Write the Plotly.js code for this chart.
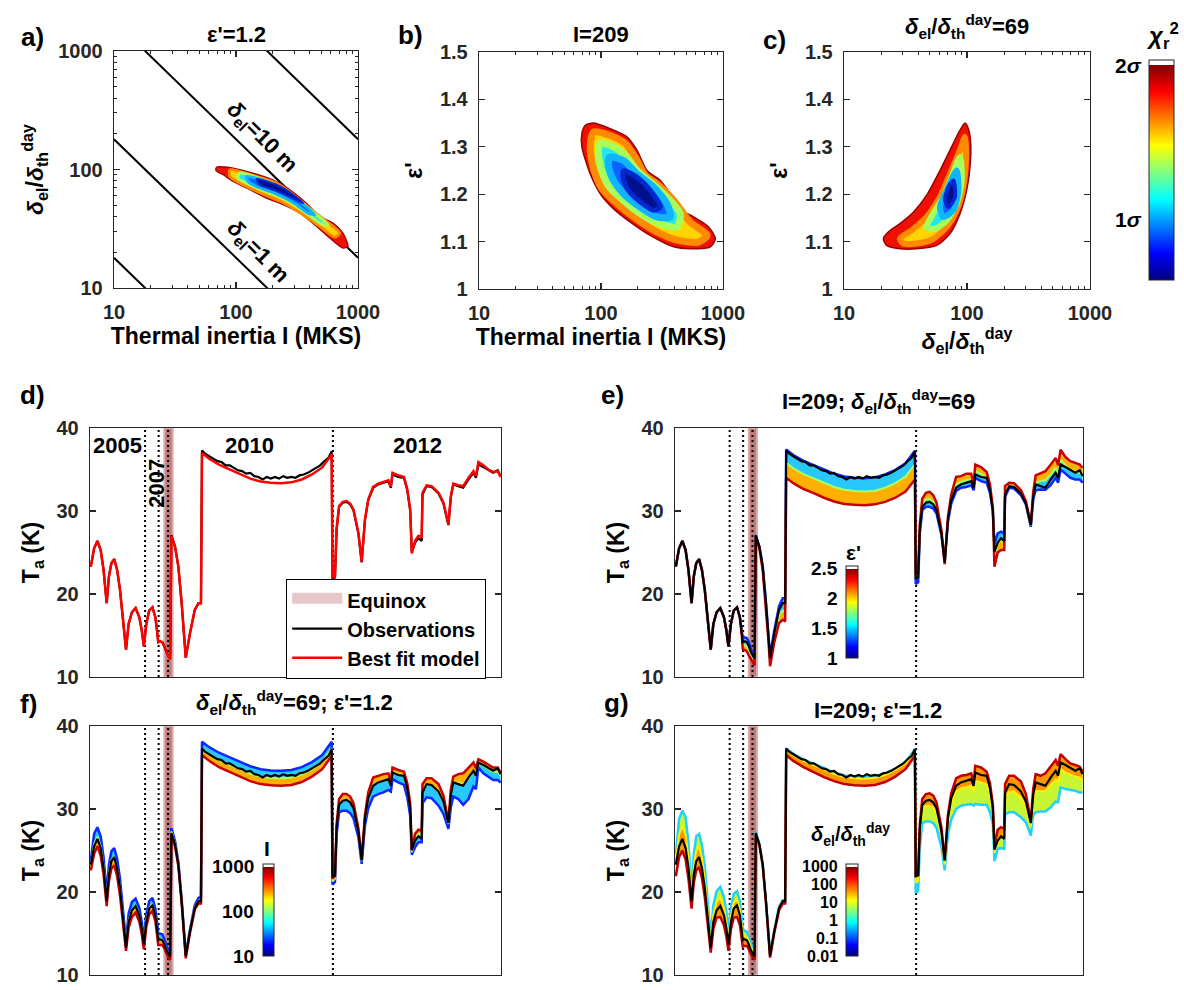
<!DOCTYPE html>
<html><head><meta charset="utf-8">
<script src="https://cdn.plot.ly/plotly-3.0.1.min.js"></script>
<style>html,body{margin:0;padding:0;background:#fff}#chart{width:1184px;height:990px}</style>
</head><body><div id="chart"></div>
<script>
// ================= DATA =================
// Panel a: chi2 contour levels (outer -> inner), thermal inertia I vs delta_el/delta_th^day (eps'=1.2)
const A_L1_I = [69.2, 94.8, 138, 201, 276, 378, 486, 624, 753, 828, 753, 586, 456, 333, 243, 178, 130, 94.8, 78.5, 68.4];
const A_L1_D = [104.7, 102.6, 93.1, 81.8, 67.5, 52, 40.2, 35.3, 29.1, 22.4, 21.7, 26.4, 33.1, 42.9, 50.4, 57.3, 67.5, 79.3, 90.2, 98.2];
const A_L2_I = [89.1, 138, 215, 294, 402, 550, 708, 644, 486, 355, 243, 167, 114.6, 89.1];
const A_L2_D = [99.4, 88.9, 76.7, 61.2, 46.8, 36.5, 29.1, 26.9, 33.1, 41.5, 52.7, 61.9, 74.3, 87.3];
const A_L3_I = [107.4, 167, 243, 333, 456, 568, 486, 378, 259, 178, 122, 104];
const A_L3_D = [93.1, 81.8, 68.2, 53.7, 41.5, 34.2, 35.3, 42.9, 55.5, 65.3, 76.7, 84.5];
const A_L4_I = [122, 178, 259, 355, 442, 390, 294, 201, 147, 126];
const A_L4_D = [87.3, 79.3, 65.3, 51, 41.5, 42.9, 52.7, 64, 71.9, 79.3];
const A_L5_I = [147, 215, 294, 355, 303, 215, 157];
const A_L5_D = [83, 74.3, 61.2, 52, 56.2, 66.1, 74.3];
// constant delta_el lines (I, ratio) end points
const DIAG_I = [10, 1000];
const DIAG_D = [[18, 0.18], [180, 1.8], [1800, 18], [18000, 180]];

// Panel b: I vs eps' (ratio=69)
const B_L1_I = [74.1, 86.7, 119, 163, 197, 238, 306, 370, 461, 574, 762, 865, 787, 540, 394, 253, 174, 127, 98.5, 81.5, 69.7, 69.7];
const B_L1_E = [1.345, 1.350, 1.338, 1.321, 1.293, 1.250, 1.229, 1.201, 1.166, 1.152, 1.131, 1.106, 1.089, 1.085, 1.089, 1.113, 1.141, 1.169, 1.201, 1.243, 1.300, 1.328];
const B_L2_I = [86.7, 118.9, 157.9, 190.6, 230.6, 296.5, 393.6, 539.5, 739.6, 631, 419, 269.8, 184.8, 134.9, 101.6, 86.7, 81.5];
const B_L2_E = [1.331, 1.324, 1.307, 1.278, 1.240, 1.219, 1.187, 1.141, 1.113, 1.099, 1.103, 1.124, 1.152, 1.180, 1.212, 1.254, 1.300];
const B_L3_I = [98.5, 126.7, 163, 196.8, 253.5, 346.7, 446.7, 419, 306, 209.5, 153, 117.4, 101.6, 95.4];
const B_L3_E = [1.307, 1.300, 1.278, 1.250, 1.226, 1.194, 1.159, 1.131, 1.138, 1.159, 1.187, 1.215, 1.250, 1.286];
const B_L4_I = [117.4, 153, 196.8, 269.8, 346.7, 369.6, 287.3, 209.5, 153, 126.7, 116];
const B_L4_E = [1.278, 1.271, 1.243, 1.215, 1.180, 1.152, 1.152, 1.173, 1.201, 1.229, 1.257];
const B_L5_I = [153, 196.8, 253.5, 306, 269.8, 209.5, 168.2, 153];
const B_L5_E = [1.250, 1.236, 1.208, 1.173, 1.166, 1.184, 1.208, 1.229];

// Panel c: ratio vs eps' (I=209)
const C_L1_D = [96.4, 102.6, 107.2, 105.7, 99.3, 87.7, 72.8, 56.7, 39, 28.5, 22.2, 20.9, 22.9, 28.5, 36.6, 47, 60.3, 75, 87.7];
const C_L1_E = [1.350, 1.338, 1.307, 1.257, 1.208, 1.159, 1.117, 1.092, 1.085, 1.085, 1.092, 1.106, 1.120, 1.138, 1.162, 1.198, 1.250, 1.300, 1.335];
const C_L2_D = [96.4, 98.2, 93.3, 82.4, 68.4, 53.2, 39, 30.3, 28.5, 35.5, 47, 60.3, 72.8, 87.7];
const C_L2_E = [1.321, 1.278, 1.215, 1.166, 1.131, 1.106, 1.096, 1.096, 1.106, 1.124, 1.152, 1.194, 1.243, 1.293];
const C_L3_D = [87.7, 90.6, 82.4, 68.4, 55, 47, 53.2, 64.3, 75];
const C_L3_E = [1.278, 1.229, 1.180, 1.145, 1.127, 1.131, 1.159, 1.194, 1.236];
const C_L4_D = [82.4, 85.1, 77.5, 64.3, 60.3, 68.4];
const C_L4_E = [1.250, 1.208, 1.166, 1.152, 1.173, 1.208];
const C_L5_D = [77.5, 79.8, 70.5, 66.2, 70.5];
const C_L5_E = [1.229, 1.194, 1.173, 1.187, 1.215];

// Time series (arbitrary time index 0-100): 2005-2007 segment (A), 2010 (B), 2012 (C)
const XA = [0.2,1.0,1.8,2.6,3.3,4.06, 4.6,5.2,5.9,6.6,7.3,8.0,8.76, 9.4,10.2,11.1,12.0,12.6,13.1, 13.7,14.4,15.2,15.9,16.4,16.6, 16.9,17.6,18.0,18.6,19.5, 19.8,20.7,21.5,22.3,22.9,23.3, 24.3,25.5,26.4,27.0];
const OBS_A = [23.3,25.5,26.4,25.3,22.9,18.9, 22.1,23.7,24.2,22.9,20.5,17.2,13.3, 16.4,17.8,18.3,17.2,15.6,13.7, 16.4,18.0,18.4,17.2,15.2,14.2, 14.3,14.2,13.8,13.0,12.2, 27.1,25.7,23.3,18.9,15.2,12.3, 15.2,18.1,18.9,18.9];
const FIT_A = [23.3,25.5,26.4,25.3,22.9,18.9, 22.1,23.7,24.2,22.9,20.5,17.2,13.3, 16.4,17.8,18.3,17.2,15.6,13.7, 16.4,18.0,18.4,17.2,15.2,14.2, 14.3,14.2,13.8,13.0,12.1, 27.0,25.7,23.3,18.9,15.2,12.3, 15.2,18.1,18.9,18.9];
const XB = [27.25,28,29,30,31,32,33,34,35,36,37,38,39,40,41,42,43,44,45,46,47,48,49,50,51,52,53,54,55,56,57,58,58.8];
const OBS_B = [37.3,36.9,36.6,36.3,36.0,35.9,35.5,35.5,35.2,34.9,34.8,34.5,34.6,34.2,34.1,33.8,34.1,33.9,34.1,33.9,34.2,34.0,34.1,34.0,34.3,34.4,34.6,34.9,35.2,35.5,36.0,36.4,37.2];
const XB_MODEL = [27.25,29,31.5,34,36.5,39,41.5,44,46.5,49,51.5,54,56.5,58.8];
const FIT_B = [37.0,36.3,35.55,35.0,34.4,33.9,33.55,33.4,33.35,33.45,33.8,34.4,35.25,36.8];
const XC = [59.0,59.6,60.0,60.6,61.5,62.4,63.3,64.1,65.3,66.1, 66.9,67.7,68.9,70.1,71.4,72.6,73.2,73.6,75.0,76.4, 77.2,77.9,78.3,79.1,79.9,80.7,80.9,81.9,83.1,84.8, 86.0,87.2,87.8,88.4,89.6,90.8,92.1,93.3,93.9,94.5, 95.7,96.9,98.1,99.2,99.9];
const OBS_C = [21.9,22.0,27.7,30.5,31.0,31.1,30.8,30.1,27.3,23.8, 28.9,31.3,32.8,33.2,33.4,33.6,32.8,34.4,34.1,34.0, 32.5,30.1,25.1,26.2,26.7,26.4,32.0,33.0,32.9,32.1, 30.9,28.3,31.7,33.2,33.0,32.8,33.8,34.6,34.0,35.6, 35.3,34.9,34.6,34.9,34.2];
const FIT_C = [22.0,22.1,27.9,30.6,31.1,31.2,30.9,30.2,27.4,23.9, 29.0,31.4,32.9,33.3,33.5,33.7,32.9,34.6,34.3,34.1, 32.6,30.2,24.9,26.4,27.0,26.9,32.2,33.1,33.0,32.2, 31.0,28.4,31.8,33.3,33.1,33.0,34.0,34.8,34.2,35.9, 35.5,35.0,34.7,34.8,34.1];

// Panel e: deviation from best-fit model for eps'=1 (LO), ~1.75 (MID), 2.5 (HI)
const E_LO_A = [0,0,0,0,0,0, 0,0,0,0,0,0,0, 0,0,0,0,0,0, 0,0,0,0,0.2,0.4, 0.5,0.5,0.5,0.4,0.3, 0,0,0.05,0.1,0.15,0.2, 0.3,0.45,0.6,0.6];
const E_MID_A = [0,0,0,0,0,0, 0,0,0,0,0,0,0, 0,0,0,0,0,0, 0,0,0,0,-0.1,-0.3, -0.4,-0.45,-0.45,-0.4,-0.3, -0.1,-0.1,-0.2,-0.25,-0.35,-0.4, -0.45,-0.7,-0.9,-1.0];
const E_HI_A = [0,0,0,0,0,0, 0,0,0,0,0,0,0, 0,0,0,0,0,0, 0,0,0,0,-0.3,-0.8, -1.0,-1.1,-1.1,-0.9,-0.7, -0.2,-0.3,-0.4,-0.6,-0.8,-1.0, -1.1,-1.6,-2.0,-2.2];
const E_LO_B = [0.4,0.45,0.5,0.55,0.6,0.6,0.6,0.6,0.6,0.6,0.6,0.55,0.5,0.45];
const E_MID_B = [-1.2,-1.15,-1.1,-1.05,-1.0,-1.0,-1.0,-1.0,-1.0,-1.0,-1.0,-1.05,-1.1,-1.2];
const E_HI_B = [-3.0,-2.95,-2.9,-2.85,-2.8,-2.75,-2.7,-2.65,-2.65,-2.65,-2.7,-2.8,-2.9,-3.0];
const E_LO_C = [-0.8,-0.7,-0.6,-0.5,-0.6,-0.7,-0.6,-0.5,-0.3,0.0, -0.3,-0.5,-0.5,-0.5,-0.6,-0.6,-0.4,-0.6,-0.7,-0.7, -0.4,-0.2,1.2,0.9,0.5,0.4,-0.5,-0.3,-0.3,-0.3, -0.2,-0.3,-0.4,-0.8,-0.5,-0.45,-0.85,-0.8,-0.8,-0.9, -1.0,-1.0,-0.9,-1.0,-0.7];
const E_MID_C = [-0.1,-0.1,0.0,0.2,0.3,0.25,0.25,0.2,0.0,-0.15, 0.0,0.1,0.3,0.2,0.2,0.1,0.0,0.2,0.15,-0.05, 0.1,0.0,-0.2,-0.2,-0.6,-0.6,0.15,0.0,0.0,0.0, 0.0,-0.15,0.05,0.1,0.5,0.7,0.4,0.4,0.25,0.3, 0.0,0.0,0.1,-0.2,0.2];
const E_HI_C = [0.5,0.5,0.5,0.9,1.1,1.1,1.0,0.8,0.3,-0.3, 0.3,0.6,1.2,0.9,1.0,0.8,0.4,1.0,1.0,0.6, 0.6,0.2,-1.6,-1.4,-1.7,-1.6,0.8,0.3,0.35,0.3, 0.2,0.0,0.5,1.0,1.5,1.8,1.6,1.6,1.3,1.5, 1.0,1.0,1.1,0.8,1.1];

// Panel f: deviation for I=10 (LO), ~100 (MID), 1000 (HI)
const F_LO_A = [0.5,1.5,1.4,1.4,1.3,0.9, 1.2,1.2,1.1,1.1,1.1,1.0,0.7, 1.0,1.0,0.9,0.9,0.8,0.6, 0.9,0.9,0.9,0.8,0.8,0.8, 0.7,0.7,0.6,0.5,0.4, 0.7,0.4,0.3,0.2,0.2,0.1, 0.2,0.3,0.4,0.5];
const F_MID_A = [-0.1,0.3,0.25,0.25,0.25,0.15, 0.2,0.15,0.05,0.05,0.1,0.15,0.15, 0.15,0.1,0.05,0.05,0.05,0.0, 0.15,0.1,0.1,0.05,0.05,0.1, 0.0,0.05,0.05,0.05,0.05, 0.3,0.1,0.05,0.0,0.0,-0.1, 0.0,0.05,0.05,0.1];
const F_HI_A = [-0.7,-0.9,-0.9,-0.9,-0.8,-0.6, -0.8,-0.9,-1.0,-1.0,-0.9,-0.7,-0.4, -0.7,-0.8,-0.8,-0.8,-0.7,-0.6, -0.6,-0.7,-0.7,-0.7,-0.7,-0.6, -0.7,-0.6,-0.5,-0.4,-0.3, -0.1,-0.2,-0.2,-0.2,-0.2,-0.3, -0.2,-0.2,-0.3,-0.3];
const F_LO_B = [1.1,1.15,1.2,1.2,1.25,1.25,1.25,1.25,1.25,1.25,1.25,1.25,1.25,1.3];
const F_MID_B = [0.3,0.3,0.35,0.35,0.35,0.35,0.35,0.35,0.35,0.35,0.35,0.35,0.4,0.45];
const F_HI_B = [-0.5,-0.5,-0.55,-0.55,-0.55,-0.55,-0.55,-0.55,-0.55,-0.55,-0.55,-0.5,-0.45,-0.4];
const F_LO_C = [-1.1,-0.9,-1.0,-1.0,-1.3,-1.4,-1.4,-1.3,-0.8,-0.5, -1.0,-1.3,-1.4,-1.5,-1.5,-1.4,-0.8,-1.0,-1.1,-1.2, -1.2,-1.0,-0.4,-1.0,-1.0,-0.9,-1.5,-1.7,-1.7,-1.8, -1.6,-0.8,-1.6,-1.8,-1.9,-2.5,-2.8,-2.1,-1.8,-0.9, -1.2,-1.1,-1.2,-1.3,-0.9];
const F_MID_C = [-0.7,-0.5,-0.2,0.0,0.0,-0.1,-0.1,-0.1,-0.1,-0.2, -0.2,-0.1,0.0,-0.1,-0.1,-0.1,0.0,-0.1,-0.1,-0.1, -0.1,0.0,-0.1,0.0,0.0,0.0,0.0,-0.2,-0.1,-0.1, -0.1,-0.2,-0.1,-0.2,0.1,0.0,-0.3,-0.2,-0.2,-0.3, -0.3,-0.2,-0.2,-0.3,-0.1];
const F_HI_C = [-0.4,-0.2,0.3,0.6,0.7,0.6,0.6,0.5,0.3,0.0, 0.3,0.6,0.9,0.7,0.7,0.6,0.5,0.4,0.4,0.4, 0.5,0.5,0.1,0.6,0.5,0.5,0.8,0.6,0.7,0.8, 0.6,0.1,0.6,0.6,1.1,1.3,1.0,0.8,0.7,0.1, 0.2,0.3,0.3,0.2,0.3];

// Panel g: deviation for ratio=0.01 (LO), ~10 (MID), 1000 (HI)
const G_LO_A = [1.2,3.3,3.4,3.7,3.0,1.1, 2.4,3.0,2.8,2.8,2.6,2.2,1.2, 2.0,2.3,2.3,2.2,2.0,1.6, 1.8,1.8,1.7,1.7,1.5,1.2, 1.1,1.0,0.9,0.8,0.5, 0.2,0.1,0.1,0.1,0.1,0.1, 0.1,0.1,0.1,0.1];
const G_MID_A = [0.5,1.4,1.5,1.6,1.3,0.4, 1.0,1.3,1.2,1.2,1.1,0.9,0.5, 0.8,1.0,1.0,0.9,0.8,0.6, 0.7,0.7,0.7,0.7,0.6,0.5, 0.4,0.4,0.35,0.3,0.2, 0.05,0.0,0.0,0.0,0.0,0.0, 0.0,0.0,0.0,0.0];
const G_HI_A = [-1.4,-1.3,-1.4,-1.4,-1.3,-0.9, -1.0,-1.1,-1.2,-1.2,-1.1,-1.0,-0.6, -0.8,-0.9,-1.3,-1.2,-1.0,-0.8, -0.9,-1.1,-1.4,-1.2,-1.0,-0.8, -0.8,-0.7,-0.6,-0.5,-0.3, -0.1,-0.1,-0.1,-0.2,-0.2,-0.2, -0.2,-0.3,-0.3,-0.3];
const G_LO_B = [0.3,0.35,0.4,0.45,0.5,0.5,0.5,0.5,0.5,0.5,0.5,0.45,0.4,0.4];
const G_MID_B = [0.2,0.2,0.25,0.3,0.3,0.3,0.3,0.3,0.3,0.3,0.3,0.3,0.25,0.25];
const G_HI_B = [-0.5,-0.5,-0.5,-0.55,-0.55,-0.55,-0.55,-0.55,-0.55,-0.55,-0.55,-0.5,-0.45,-0.4];
const G_LO_C = [-2.1,-2.0,-2.5,-2.3,-2.6,-2.7,-2.6,-2.5,-2.0,-1.3, -2.0,-2.7,-2.9,-2.9,-3.0,-3.1,-2.5,-4.0,-3.8,-3.6, -3.0,-2.0,-1.2,-1.2,-1.7,-1.7,-2.8,-3.5,-3.4,-3.2, -2.6,-1.6,-2.5,-3.7,-3.4,-3.3,-3.8,-3.9,-3.4,-3.3, -3.1,-2.7,-2.5,-2.8,-2.1];
const G_MID_C = [-0.8,-0.8,-0.9,-0.6,-0.7,-0.8,-0.7,-0.7,-0.6,-0.6, -0.6,-0.8,-0.8,-0.8,-0.9,-0.9,-0.8,-1.2,-1.1,-1.1, -0.9,-0.6,-0.2,0.0,-0.3,-0.4,-0.7,-1.0,-0.9,-0.8, -0.7,-0.6,-0.7,-1.1,-1.0,-0.8,-1.1,-1.2,-1.0,-1.1, -1.1,-0.9,-0.8,-1.0,-0.7];
const G_HI_C = [0.0,0.0,0.2,0.6,0.7,0.7,0.7,0.6,0.4,-0.1, 0.3,0.5,0.8,0.7,0.6,0.6,0.3,0.6,0.7,0.4, 0.5,0.4,0.6,1.1,0.8,0.7,0.8,0.9,1.0,1.1, 0.8,0.2,0.6,0.9,0.9,1.3,1.2,1.1,1.0,0.7, 0.5,0.5,0.6,0.3,0.4];

// equinox interval and season boundaries (time index)
const EQUINOX = [18.1, 20.1];
const SEASON_BREAKS = [13.4, 16.7, 19.0, 59.1];

// colour bar ticks
const CB_MAIN_TICKS = [1, 2], CB_MAIN_TEXT = ['1<i>σ</i>', '2<i>σ</i>'];
const CB_E_TICKS = [1, 1.5, 2, 2.5], CB_E_TEXT = ['1', '1.5', '2', '2.5'];
const CB_F_TICKS = [1, 2, 3], CB_F_TEXT = ['10', '100', '1000'];
const CB_G_TICKS = [-2, -1, 0, 1, 2, 3], CB_G_TEXT = ['0.01', '0.1', '1', '10', '100', '1000'];
// log-axis tick values
const LOG_MAJOR = [10, 100, 1000];
const LOG_MINOR = [20, 30, 40, 50, 60, 70, 80, 90, 200, 300, 400, 500, 600, 700, 800, 900];

// ================= BUILD =================
const W = 1184, H = 990;
const px = v => v / W;
const py = v => 1 - v / H;
const FONT = '"Liberation Sans", Arial, Helvetica, sans-serif';
const AXC = '#262626';

const XM = XA.concat(XB_MODEL, XC);
const FITM = FIT_A.concat(FIT_B, FIT_C);
const XO = XA.concat(XB, XC);
const OBS = OBS_A.concat(OBS_B, OBS_C);

const traces = [];

function poly(xs, ys, fill, lc, lw, xa, ya) {
  traces.push({type: 'scatter', mode: 'lines', x: xs.concat([xs[0]]), y: ys.concat([ys[0]]),
    fill: 'toself', fillcolor: fill, line: {color: lc, width: lw, shape: 'spline', smoothing: 0.7},
    xaxis: xa, yaxis: ya, showlegend: false, hoverinfo: 'skip'});
}
const LV = [
  {f: '#f01000', l: '#9a0000'},
  {f: '#ffd400', l: '#ff8a00'},
  {f: '#22e6f0', l: '#a6ff5a'},
  {f: '#0a64ff', l: '#10b4ff'},
  {f: '#00108c', l: '#0028d0'}
];
function contourSet(levels, xa, ya, widths) {
  levels.forEach((lv, i) => poly(lv[0], lv[1], LV[i].f, LV[i].l, widths[i], xa, ya));
}

// panel a
DIAG_D.forEach(d => traces.push({type: 'scatter', mode: 'lines', x: DIAG_I, y: d, line: {color: '#000', width: 2},
  xaxis: 'x', yaxis: 'y', showlegend: false, hoverinfo: 'skip'}));
contourSet([[A_L1_I, A_L1_D], [A_L2_I, A_L2_D], [A_L3_I, A_L3_D], [A_L4_I, A_L4_D], [A_L5_I, A_L5_D]], 'x', 'y', [1.2, 3, 3, 3, 2]);
// panel b, c
contourSet([[B_L1_I, B_L1_E], [B_L2_I, B_L2_E], [B_L3_I, B_L3_E], [B_L4_I, B_L4_E], [B_L5_I, B_L5_E]], 'x2', 'y2', [1.5, 7, 7, 7, 5]);
contourSet([[C_L1_D, C_L1_E], [C_L2_D, C_L2_E], [C_L3_D, C_L3_E], [C_L4_D, C_L4_E], [C_L5_D, C_L5_E]], 'x3', 'y3', [1.5, 6, 6, 6, 4]);

// time series helpers
function bandTraces(lo, mid, hi, xa, ya, st) {
  const mk = (off) => FITM.map((v, i) => v + off[i]);
  traces.push({type: 'scatter', mode: 'lines', x: XM, y: mk(lo), line: {color: st.lo, width: 2.5},
    xaxis: xa, yaxis: ya, showlegend: false, hoverinfo: 'skip'});
  traces.push({type: 'scatter', mode: 'lines', x: XM, y: mk(mid), line: {color: st.mid, width: 2},
    fill: 'tonexty', fillcolor: st.f1, xaxis: xa, yaxis: ya, showlegend: false, hoverinfo: 'skip'});
  traces.push({type: 'scatter', mode: 'lines', x: XM, y: mk(hi), line: {color: st.hi, width: 2.5},
    fill: 'tonexty', fillcolor: st.f2, xaxis: xa, yaxis: ya, showlegend: false, hoverinfo: 'skip'});
}
function obsTrace(xa, ya, legend) {
  traces.push({type: 'scatter', mode: 'lines', x: XO, y: OBS, line: {color: '#000', width: 2.2},
    xaxis: xa, yaxis: ya, name: 'Observations', showlegend: !!legend, hoverinfo: 'skip', legendrank: 2});
}

// panel d
traces.push({type: 'scatter', mode: 'lines', x: [null], y: [null], fill: 'toself', fillcolor: '#e6c8ca',
  line: {color: '#e6c8ca', width: 10}, name: 'Equinox', xaxis: 'x4', yaxis: 'y4', showlegend: true, legendrank: 1, hoverinfo: 'skip'});
obsTrace('x4', 'y4', true);
traces.push({type: 'scatter', mode: 'lines', x: XM, y: FITM, line: {color: '#ff0000', width: 2.5},
  xaxis: 'x4', yaxis: 'y4', name: 'Best fit model', showlegend: true, legendrank: 3, hoverinfo: 'skip'});

// panel e, f, g
const ST_EF = {lo: '#0a28ff', mid: '#a8ff60', hi: '#c80000', f1: 'rgb(40,200,255)', f2: 'rgb(255,175,0)'};
const ST_G = {lo: '#20d0ff', mid: '#fff000', hi: '#c00000', f1: 'rgb(200,245,50)', f2: 'rgb(255,150,0)'};
bandTraces(E_LO_A.concat(E_LO_B, E_LO_C), E_MID_A.concat(E_MID_B, E_MID_C), E_HI_A.concat(E_HI_B, E_HI_C), 'x5', 'y5', ST_EF);
obsTrace('x5', 'y5', false);
bandTraces(F_LO_A.concat(F_LO_B, F_LO_C), F_MID_A.concat(F_MID_B, F_MID_C), F_HI_A.concat(F_HI_B, F_HI_C), 'x6', 'y6', ST_EF);
obsTrace('x6', 'y6', false);
bandTraces(G_LO_A.concat(G_LO_B, G_LO_C), G_MID_A.concat(G_MID_B, G_MID_C), G_HI_A.concat(G_HI_B, G_HI_C), 'x7', 'y7', ST_G);
obsTrace('x7', 'y7', false);

// colour bars
const JET = [[0, '#000080'], [0.125, '#0000ff'], [0.375, '#00ffff'], [0.625, '#ffff00'], [0.875, '#ff0000'], [1, '#800000']];
function jetCap(cap) {
  const s = JET.map(([p, c]) => [p * (1 - cap), c]);
  s.push([1 - cap + 0.0005, '#ffffff'], [1, '#ffffff']);
  return s;
}
const CBS = {
  coloraxis: {cmin: 0.61, cmax: 2, cap: 0.023, x: 1149, top: 60, lenPx: 220, th: 25, ticks: CB_MAIN_TICKS, text: CB_MAIN_TEXT, lx: 1144, fs: 21},
  coloraxis2: {cmin: 1, cmax: 2.5, cap: 0.03, x: 846, top: 566, lenPx: 92, th: 12, ticks: CB_E_TICKS, text: CB_E_TEXT, lx: 840, fs: 19},
  coloraxis3: {cmin: 1, cmax: 3, cap: 0.03, x: 263, top: 864, lenPx: 92, th: 11, ticks: CB_F_TICKS, text: CB_F_TEXT, lx: 256, fs: 19},
  coloraxis4: {cmin: -2, cmax: 3, cap: 0.03, x: 846, top: 864, lenPx: 92, th: 12, ticks: CB_G_TICKS, text: CB_G_TEXT, lx: 840, fs: 16}
};
const layoutCA = {};
const cbAnn = [];
Object.keys(CBS).forEach(k => {
  const c = CBS[k];
  layoutCA[k] = {cmin: c.cmin, cmax: c.cmax, colorscale: jetCap(c.cap), showscale: true,
    colorbar: {x: px(c.x), xanchor: 'left', y: py(c.top), yanchor: 'top', len: c.lenPx / H, lenmode: 'fraction',
      thickness: c.th, thicknessmode: 'pixels', xpad: 0, ypad: 0, outlinewidth: 1, outlinecolor: AXC,
      showticklabels: false, ticks: ''}};
  traces.push({type: 'scatter', mode: 'markers', x: [50], y: [-100], marker: {color: [c.cmin], coloraxis: k, size: 1},
    xaxis: 'x4', yaxis: 'y4', showlegend: false, hoverinfo: 'skip'});
  const bottom = c.top + c.lenPx, colLen = c.lenPx * (1 - c.cap);
  c.ticks.forEach((v, i) => {
    const ypx = bottom - (v - c.cmin) / (c.cmax - c.cmin) * colLen;
    cbAnn.push({xref: 'paper', yref: 'paper', x: px(c.lx), y: py(ypx), xanchor: 'right', yanchor: 'middle',
      text: c.text[i], showarrow: false, font: {family: FONT, size: c.fs, color: '#000', weight: 'bold'}});
  });
});

// axes
const TF = {family: FONT, size: 20, color: AXC, weight: 'bold'};
const TTF = {family: FONT, size: 23, color: '#000', weight: 'bold'};
function axis(extra) {
  return Object.assign({showgrid: false, zeroline: false, showline: true, mirror: 'ticks', linecolor: AXC, linewidth: 1.3,
    ticks: 'inside', ticklen: 6, tickwidth: 1.2, tickcolor: AXC, tickfont: TF, fixedrange: true}, extra);
}
const logAx = (dom, anchor, title, standoff) => axis({type: 'log', range: [1, 3], domain: dom, anchor: anchor,
  tickmode: 'array', tickvals: LOG_MAJOR, ticktext: LOG_MAJOR.map(String), ticklabelstandoff: 6,
  minor: {tickmode: 'array', tickvals: LOG_MINOR, ticks: 'inside', ticklen: 3, tickcolor: AXC, tickwidth: 1, showgrid: false},
  title: {text: title, font: TTF, standoff: standoff}});
const RATIO = '<i>δ</i><sub>el</sub>/<i>δ</i><sub>th</sub><sup>day</sup>';
const tsX = (dom, anchor) => axis({range: [0, 100], domain: dom, anchor: anchor, showticklabels: false, ticks: ''});
const tsY = (dom, anchor) => axis({range: [10, 40], dtick: 10, domain: dom, anchor: anchor, ticklabelstandoff: 6,
  title: {text: 'T<sub>a</sub> (K)', font: TTF, standoff: 10}});
const epsY = (dom, anchor) => axis({range: [1, 1.5], dtick: 0.1, domain: dom, anchor: anchor, ticklabelstandoff: 6,
  title: {text: "ε'", font: TTF, standoff: 10}});

const dTop = [py(288), py(51)];
const dTopB = [py(289), py(52)];
const dMid = [py(677), py(428)];
const dBot = [py(975), py(726)];
const xL = [px(90), px(501)], xR = [px(675), px(1083)];

const BOLD = (size) => ({family: FONT, size: size, color: '#000', weight: 'bold'});
const ann = (x, y, text, size, extra) => Object.assign({xref: 'paper', yref: 'paper', x: px(x), y: py(y), text: text,
  showarrow: false, xanchor: 'center', yanchor: 'middle', font: BOLD(size)}, extra || {});
const dataAnn = (xref, yref, x, y, text, extra) => Object.assign({xref: xref, yref: yref, x: x, y: y, text: text, showarrow: false,
  font: BOLD(22)}, extra || {});
const panelTitle = (axX, axY, text, shift) => ({xref: axX + ' domain', yref: axY + ' domain', x: 0.5, y: 1, yanchor: 'bottom',
  xanchor: 'center', yshift: shift, text: text, showarrow: false, font: BOLD(22)});

const annotations = [
  ann(32, 37, 'a)', 26), ann(410, 35, 'b)', 26), ann(774, 40, 'c)', 26),
  ann(32, 395, 'd)', 26), ann(612, 395, 'e)', 26), ann(28, 704, 'f)', 26), ann(616, 703, 'g)', 26),
  panelTitle('x', 'y', "ε'=1.2", 2), panelTitle('x2', 'y2', 'I=209', 3), ann(967, 27, RATIO + '=69', 22),
  ann(878, 402, 'I=209; ' + RATIO + '=69', 22), ann(294, 702, RATIO + "=69; ε'=1.2", 22), ann(878, 710, "I=209; ε'=1.2", 22),
  ann(1162, 36, '<i>χ</i><sub>r</sub><sup>2</sup>', 24),
  ann(853, 552, "ε'", 21), ann(267, 848, 'I', 21), ann(850, 834, RATIO, 20),
  dataAnn('x4', 'y4', 6.8, 37.9, '2005'),
  dataAnn('x4', 'y4', 38.9, 37.9, '2010'),
  dataAnn('x4', 'y4', 79.6, 37.9, '2012'),
  dataAnn('x4', 'y4', 16.3, 33.4, '2007', {textangle: -90}),
  dataAnn('x', 'y', Math.log10(163), Math.log10(185), '<i>δ</i><sub>el</sub>=10 m', {textangle: 45}),
  dataAnn('x', 'y', Math.log10(149), Math.log10(20.1), '<i>δ</i><sub>el</sub>=1 m', {textangle: 45})
].concat(cbAnn);

const shapes = [];
[['x4', 'y4'], ['x5', 'y5'], ['x6', 'y6'], ['x7', 'y7']].forEach(([xa, ya]) => {
  shapes.push({type: 'rect', xref: xa, yref: ya + ' domain', x0: EQUINOX[0], x1: EQUINOX[1], y0: 0, y1: 1,
    fillcolor: 'rgba(178,100,100,0.85)', line: {color: 'rgba(220,170,170,1)', width: 2}, layer: 'below'});
  SEASON_BREAKS.forEach(v => shapes.push({type: 'line', xref: xa, yref: ya + ' domain', x0: v, x1: v, y0: 0, y1: 1,
    line: {color: '#000', width: 2, dash: '2px,3px'}, layer: 'below'}));
});

const layout = Object.assign({
  width: W, height: H, margin: {l: 0, r: 0, t: 0, b: 0}, paper_bgcolor: '#fff', plot_bgcolor: '#fff',
  font: {family: FONT, color: '#000'}, hovermode: false,
  xaxis: logAx([px(114), px(358)], 'y', 'Thermal inertia I (MKS)', 2),
  yaxis: logAx(dTop, 'x', RATIO, 8),
  xaxis2: logAx([px(479), px(723)], 'y2', 'Thermal inertia I (MKS)', 2),
  yaxis2: epsY(dTopB, 'x2'),
  xaxis3: logAx([px(844), px(1090)], 'y3', RATIO, 8),
  yaxis3: epsY(dTopB, 'x3'),
  xaxis4: tsX(xL, 'y4'), yaxis4: tsY(dMid, 'x4'),
  xaxis5: tsX(xR, 'y5'), yaxis5: tsY(dMid, 'x5'),
  xaxis6: tsX(xL, 'y6'), yaxis6: tsY(dBot, 'x6'),
  xaxis7: tsX(xR, 'y7'), yaxis7: tsY(dBot, 'x7'),
  showlegend: true,
  legend: {x: px(286), y: py(579), xanchor: 'left', yanchor: 'top', bgcolor: '#fff', bordercolor: '#000', borderwidth: 1.2,
    font: {family: FONT, size: 20, color: '#000', weight: 'bold'}, itemwidth: 50, tracegroupgap: 0, traceorder: 'normal'},
  annotations: annotations, shapes: shapes
}, layoutCA);

Plotly.newPlot('chart', traces, layout, {staticPlot: true, displayModeBar: false});
</script></body></html>
